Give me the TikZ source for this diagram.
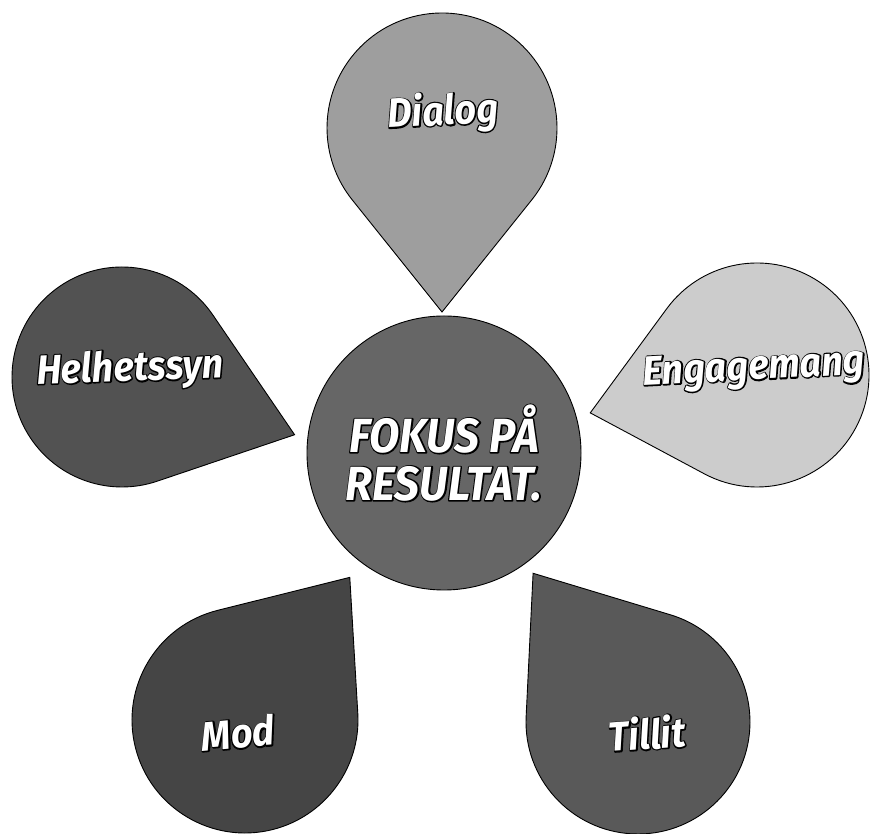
\documentclass[tikz,border=0pt]{standalone}
\usepackage{fontspec}
\usepackage{tikz}
\usetikzlibrary{calc}
\newfontfamily\petalfont{Fira Sans}[FakeStretch=0.92]
\definecolor{dialoggray}{gray}{0.62}
\definecolor{wholegray}{gray}{0.32}
\definecolor{engagegray}{gray}{0.80}
\definecolor{coregray}{gray}{0.40}
\definecolor{modgray}{gray}{0.27}
\definecolor{trustgray}{gray}{0.35}
% white letters with a black rim: stroked copy underneath, filled copy on top
\newcommand{\rim}[1]{\rlap{\special{pdf:literal 1 Tr 0 G 2.6 w 1 j}#1\special{pdf:literal 0 Tr}}#1}
% teardrop: #1 fill, #2 centre, #3 radius, #4 tip angle, #5 tip distance
\newcommand{\petal}[5]{%
  \pgfmathsetmacro{\halfang}{acos(#3/#5)}
  \draw[drop=#1] ($(#2)+(#4:#5)$) -- ($(#2)+(#4+\halfang:#3)$)
    arc[start angle=#4+\halfang, end angle=#4-\halfang+360, radius=#3] -- cycle;
}

\begin{document}
\begin{tikzpicture}[
    x=1pt, y=1pt,
    drop/.style={draw=black, line width=0.9pt, fill=#1},
    lbl/.style={font=\petalfont\bfseries\itshape\fontsize{41}{44}\selectfont,
                text=white, inner sep=0pt},
    core/.style={circle, draw=black, line width=0.9pt, fill=coregray,
                 minimum size=274pt, inner sep=0pt, align=center, text=white,
                 font=\petalfont\bfseries\itshape\fontsize{48}{48}\selectfont},
]
\useasboundingbox (0,0) rectangle (870,834);

% Petal centres
\coordinate (dialog) at (442,706);
\coordinate (whole)  at (122,457);
\coordinate (engage) at (757,459);
\coordinate (mod)    at (245,114);
\coordinate (trust)  at (638,112);

% Petals
\petal{dialoggray}{dialog}{115}{-90}{184}
\petal{wholegray}{whole}{110}{-18.5}{182}
\petal{engagegray}{engage}{112}{192.8}{171}
\petal{modgray}{mod}{113}{53.7}{177}
\petal{trustgray}{trust}{112}{125.2}{182}

% Centre circle
\node[core] (focus) at (444,381) {\rim{FOKUS PÅ}\\\rim{RESULTAT.}};

% Labels
\node[lbl, rotate=3]  (dlgtxt) at (443,721) {\rim{Dialog}};
\node[lbl, rotate=2]  (whltxt) at (130,464) {\rim{Helhetssyn}};
\node[lbl, rotate=3]  (engtxt) at (754,464) {\rim{Engagemang}};
\node[lbl, rotate=5]  (modtxt) at (238,101) {\rim{Mod}};
\node[lbl, rotate=4]  (trstxt) at (647,101) {\rim{Tillit}};
\end{tikzpicture}
\end{document}
